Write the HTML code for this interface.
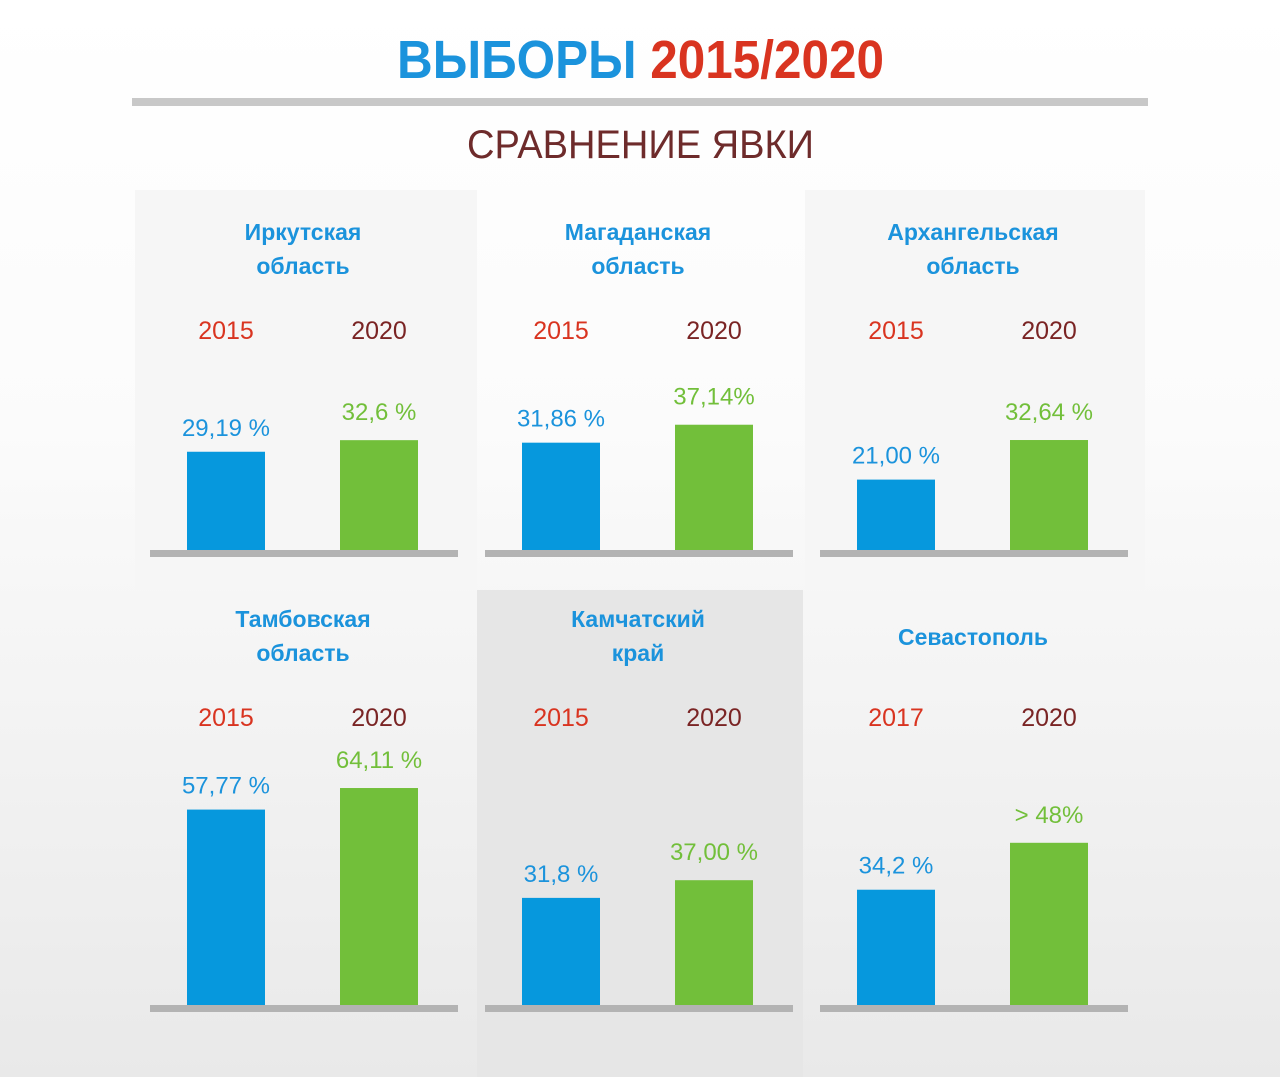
<!DOCTYPE html>
<html><head><meta charset="utf-8">
<style>
html,body{margin:0;padding:0;}
body{width:1280px;height:1077px;overflow:hidden;font-family:"Liberation Sans",sans-serif;}
svg text{font-family:"Liberation Sans",sans-serif;}
</style></head>
<body>
<svg id="chart" width="1280" height="1077" viewBox="0 0 1280 1077" xmlns="http://www.w3.org/2000/svg">
<defs>
<linearGradient id="bg" x1="0" y1="0" x2="0" y2="1">
<stop offset="0" stop-color="#ffffff"/><stop offset="0.4" stop-color="#fbfbfb"/><stop offset="1" stop-color="#e9e9e9"/>
</linearGradient>
</defs>
<rect x="0" y="0" width="1280" height="1077" fill="url(#bg)"/>
<rect x="135" y="190" width="342" height="400" fill="#f6f6f6"/>
<rect x="805" y="190" width="340" height="400" fill="#f6f6f6"/>
<rect x="477" y="590" width="326" height="487" fill="#e6e6e6"/>
<text x="397" y="78" textLength="487" lengthAdjust="spacingAndGlyphs" font-size="54" font-weight="bold"><tspan fill="#1b93dc">ВЫБОРЫ </tspan><tspan fill="#d93420">2015/2020</tspan></text>
<rect x="132" y="98" width="1016" height="8" fill="#c8c8c8"/>
<text x="467" y="158" textLength="347" lengthAdjust="spacingAndGlyphs" font-size="40" fill="#6e2b2b">СРАВНЕНИЕ ЯВКИ</text>
<g id="panels"></g>
</svg>
<script>
const regions = [["Иркутская","область"],["Магаданская","область"],["Архангельская","область"],["Тамбовская","область"],["Камчатский","край"],["Севастополь"]];
const yearsA = ["2015","2015","2015","2015","2015","2017"];
const yearsB = ["2020","2020","2020","2020","2020","2020"];
const valuesA = [29.19, 31.86, 21.00, 57.77, 31.8, 34.2];
const valuesB = [32.6, 37.14, 32.64, 64.11, 37.00, 48];
const labelsA = ["29,19 %","31,86 %","21,00 %","57,77 %","31,8 %","34,2 %"];
const labelsB = ["32,6 %","37,14%","32,64 %","64,11 %","37,00 %","> 48%"];

const NS = "http://www.w3.org/2000/svg";
const g = document.getElementById("panels");
const pxPerPct = 3.4;
function yScale(v, base){ return base - v * pxPerPct; }
function mk(tag, attrs, txt){
  const e = document.createElementNS(NS, tag);
  for (const k in attrs) e.setAttribute(k, attrs[k]);
  if (txt !== undefined) e.textContent = txt;
  g.appendChild(e);
  return e;
}
for (let i = 0; i < regions.length; i++){
  const col = i % 3, row = Math.floor(i / 3);
  const ox = col * 335;
  const base = row === 0 ? 551 : 1006;
  const top = row === 0 ? 0 : 387;
  const cx = 303 + ox;
  const lines = regions[i];
  lines.forEach((ln, j) => {
    const y = lines.length === 1 ? 645 : 240 + top + j * 34;
    const t = mk("text", {x: cx, y: y, "text-anchor": "middle", "font-size": 23, "font-weight": "bold", fill: "#1b93dc"}, ln);
    
    
  });
  const xa = 226 + ox, xb = 379 + ox;
  const ya = mk("text", {x: xa, y: 339 + top, "text-anchor": "middle", "font-size": 25, fill: "#d93420"}, yearsA[i]);
  
  
  const yb = mk("text", {x: xb, y: 339 + top, "text-anchor": "middle", "font-size": 25, fill: "#7a2424"}, yearsB[i]);
  
  
  const ta = yScale(valuesA[i], base), tb = yScale(valuesB[i], base);
  const ba = mk("rect", {x: xa - 39, y: ta, width: 78, height: base - ta, fill: "#0698dd"});
  
  
  const bb = mk("rect", {x: xb - 39, y: tb, width: 78, height: base - tb, fill: "#72bf3a"});
  
  
  const la = mk("text", {x: xa, y: ta - 16, "text-anchor": "middle", "font-size": 24, fill: "#1b93dc"}, labelsA[i]);
  
  
  const lb = mk("text", {x: xb, y: tb - 20, "text-anchor": "middle", "font-size": 24, fill: "#72bf3a"}, labelsB[i]);
  
  
  const ax = mk("rect", {x: 150 + ox, y: base - 1, width: 308, height: 7, fill: "#b3b3b3"});
  
  
}
</script>
</body></html>
